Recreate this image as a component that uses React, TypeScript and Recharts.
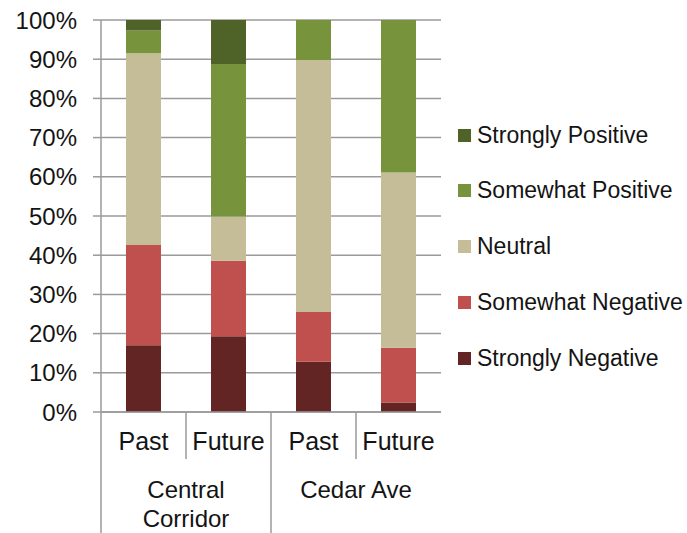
import { BarChart, Bar, XAxis, YAxis, CartesianGrid } from "recharts";

const periods = ["Past", "Future", "Past", "Future"];
const groups = ["Central Corridor", "Central Corridor", "Cedar Ave", "Cedar Ave"];

// percent of responses, bottom of stack first
const stronglyNegative = [17.0, 19.3, 12.8, 2.4];
const somewhatNegative = [25.6, 19.3, 12.7, 14.0];
const neutral = [48.9, 11.3, 64.3, 44.7];
const somewhatPositive = [5.8, 38.9, 10.2, 38.9];
const stronglyPositive = [2.7, 11.2, 0, 0];

const yTicks = [0, 10, 20, 30, 40, 50, 60, 70, 80, 90, 100];

const SERIES = [
  { key: "sn", name: "Strongly Negative", color: "#632523", values: stronglyNegative },
  { key: "smn", name: "Somewhat Negative", color: "#C0504D", values: somewhatNegative },
  { key: "neu", name: "Neutral", color: "#C4BD97", values: neutral },
  { key: "smp", name: "Somewhat Positive", color: "#77933C", values: somewhatPositive },
  { key: "sp", name: "Strongly Positive", color: "#4F6228", values: stronglyPositive },
];

const data = periods.map((p, i) => {
  const row: Record<string, any> = { period: p, group: groups[i] };
  SERIES.forEach((s) => (row[s.key] = s.values[i]));
  return row;
});

const FONT = "'Liberation Sans', Arial, sans-serif";
const TEXT = "#141414";
const LINE = "#9a9a9a";

const W = 687;
const H = 533;
const PLOT_LEFT = 101;
const PLOT_W = 340;
const PERIOD_H = 50;
const GROUP_H = 71;
const catW = PLOT_W / periods.length;

function PeriodTick(props: any) {
  const { x, y, payload } = props;
  const idx = payload?.index ?? props.index ?? 0;
  return (
    <g>
      {idx % 2 === 0 && (
        <line
          x1={x + catW / 2}
          x2={x + catW / 2}
          y1={y}
          y2={y + 47}
          stroke={LINE}
          strokeWidth={1.5}
        />
      )}
      <text x={x} y={y + 38} textAnchor="middle" fill={TEXT} fontSize={25} fontFamily={FONT}>
        {payload.value}
      </text>
    </g>
  );
}

function GroupTick(props: any) {
  const { x, y, payload } = props;
  const words = String(payload.value) === "Central Corridor" ? ["Central", "Corridor"] : [String(payload.value)];
  return (
    <g>
      <line
        x1={x - catW}
        x2={x - catW}
        y1={y - PERIOD_H}
        y2={H}
        stroke={LINE}
        strokeWidth={1.5}
      />
      <text x={x} y={y + 36} textAnchor="middle" fill={TEXT} fontSize={24} fontFamily={FONT}>
        {words.map((w, i) => (
          <tspan key={w} x={x} dy={i === 0 ? 0 : 29}>
            {w}
          </tspan>
        ))}
      </text>
    </g>
  );
}

export default function App() {
  return (
    <div style={{ position: "absolute", left: 0, top: 0, width: W, height: H, background: "#fff" }}>
      <BarChart
        width={W}
        height={H}
        data={data}
        margin={{ top: 20, right: W - PLOT_LEFT - PLOT_W, bottom: 0, left: 0 }}
        barSize={35}
      >
        <CartesianGrid vertical={false} stroke={LINE} strokeWidth={1.5} />
        <XAxis
          dataKey="period"
          height={PERIOD_H}
          tickLine={false}
          tickSize={0}
          tickMargin={0}
          axisLine={{ stroke: LINE, strokeWidth: 1.5 }}
          tick={<PeriodTick />}
          interval={0}
        />
        <XAxis
          xAxisId="group"
          dataKey="group"
          allowDuplicatedCategory={false}
          height={GROUP_H}
          axisLine={false}
          tickLine={false}
          tickSize={0}
          tickMargin={0}
          tick={<GroupTick />}
          interval={0}
        />
        <YAxis
          width={PLOT_LEFT}
          domain={[0, 100]}
          ticks={yTicks}
          allowDataOverflow
          tickSize={8}
          tickMargin={16}
          tickFormatter={(v: number) => `${v}%`}
          axisLine={{ stroke: LINE, strokeWidth: 1.5 }}
          tickLine={{ stroke: LINE, strokeWidth: 1.5 }}
          tick={{ fill: TEXT, fontSize: 24, fontFamily: FONT }}
        />
        {SERIES.map((s) => (
          <Bar
            key={s.key}
            dataKey={s.key}
            name={s.name}
            stackId="a"
            fill={s.color}
            isAnimationActive={false}
          />
        ))}
      </BarChart>
      <div style={{ position: "absolute", left: 458, top: 121, fontFamily: FONT }}>
        {[...SERIES].reverse().map((s) => (
          <div
            key={s.key}
            style={{ display: "flex", alignItems: "center", height: 28, marginBottom: 27.8 }}
          >
            <span style={{ width: 13, height: 13, background: s.color, display: "inline-block", marginRight: 6 }} />
            <span style={{ fontSize: 23, color: TEXT, whiteSpace: "nowrap" }}>{s.name}</span>
          </div>
        ))}
      </div>
    </div>
  );
}
